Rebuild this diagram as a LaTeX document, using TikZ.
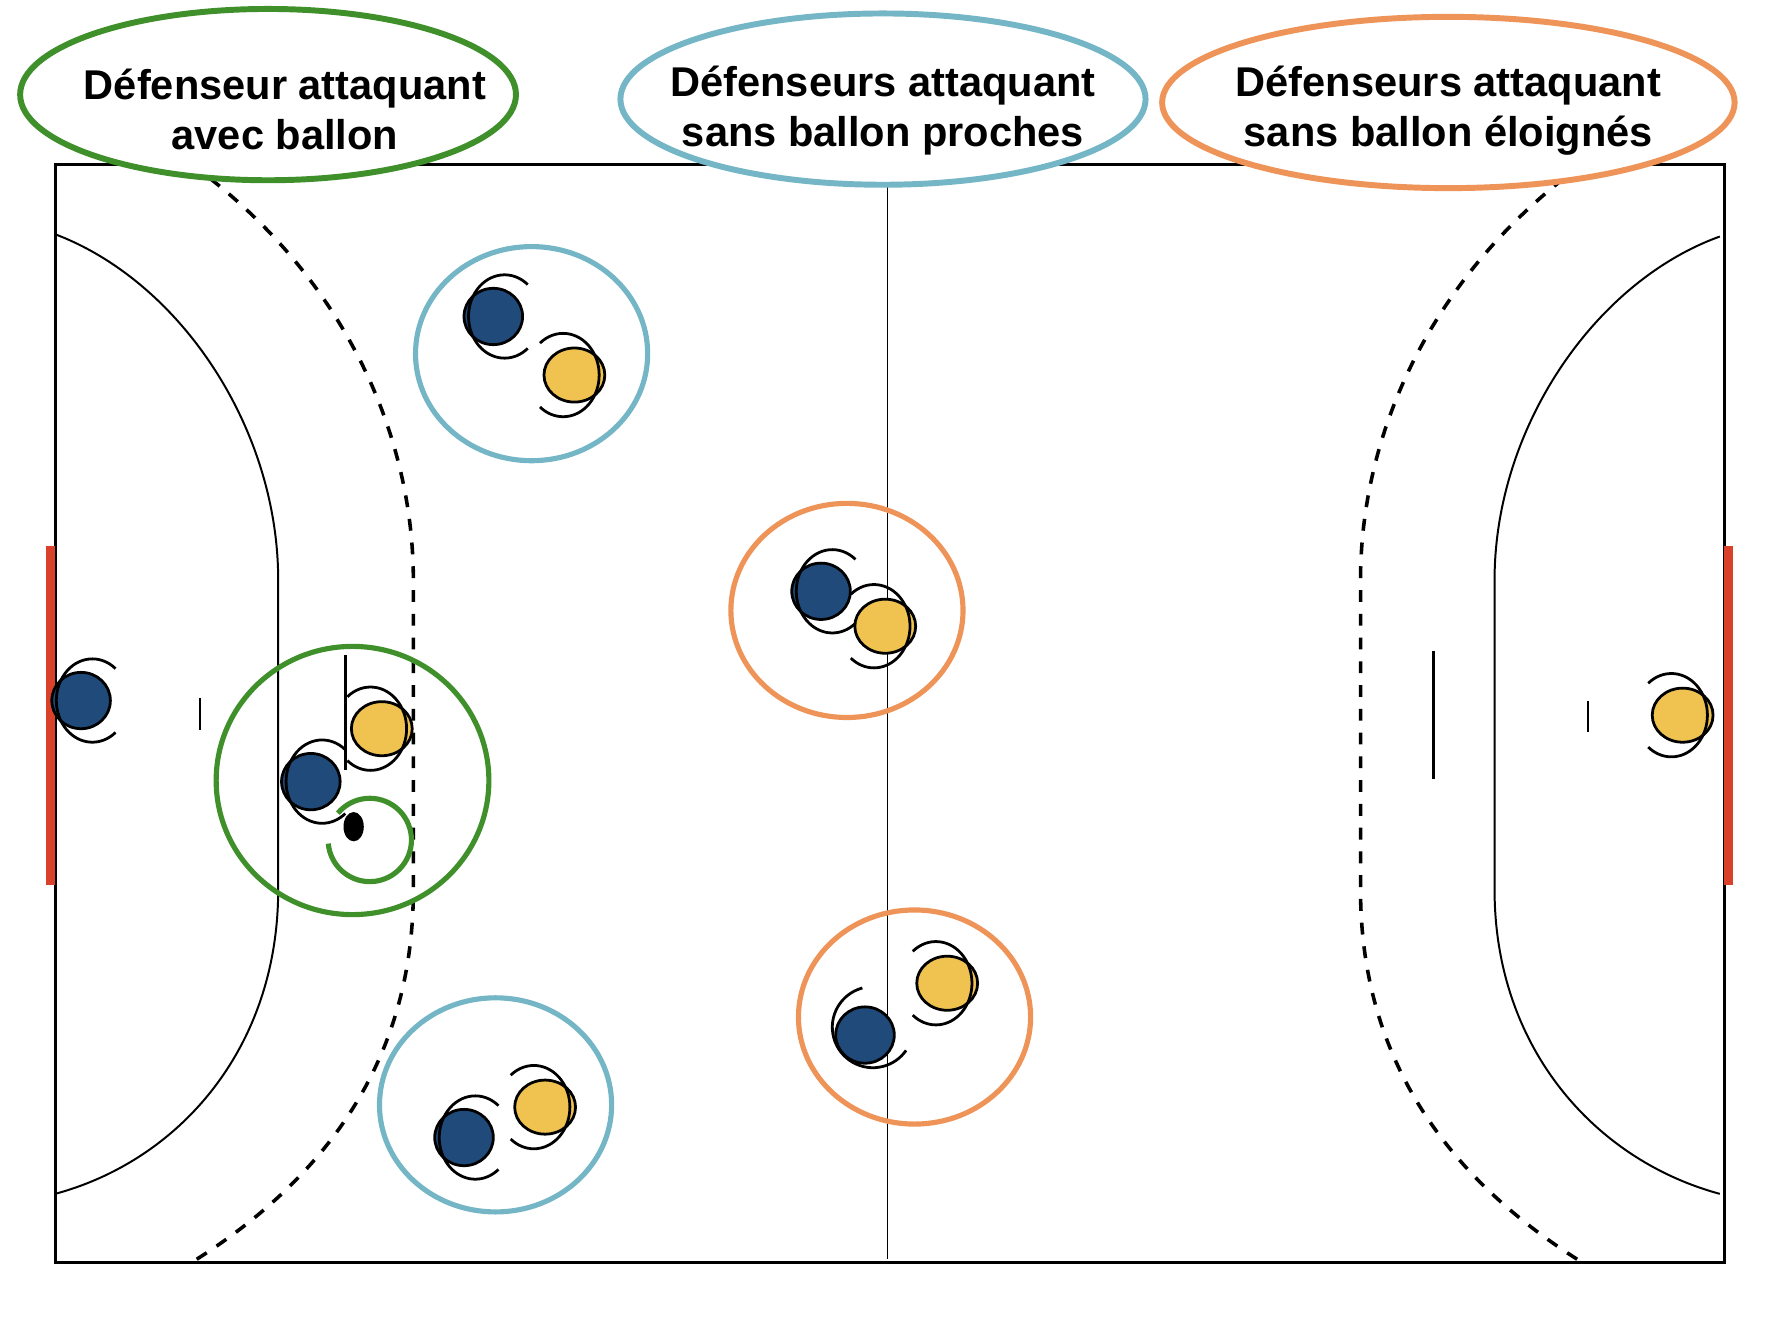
\documentclass[tikz,border=0pt]{standalone}
\usepackage{fontspec}
\setmainfont{Liberation Sans}
\usetikzlibrary{shapes.geometric}
\definecolor{teamblue}{HTML}{1F4A7A}
\definecolor{teamyellow}{HTML}{F0C350}
\definecolor{zonegreen}{HTML}{3F8F2A}
\definecolor{zonecyan}{HTML}{74B6C5}
\definecolor{zoneorange}{HTML}{EE9458}
\definecolor{goalred}{HTML}{D9412B}
\begin{document}
\begin{tikzpicture}
[
x=0.01cm,y=-0.01cm,
court/.style={line width=0.5pt},
nine/.style={line width=0.9pt,dash pattern=on 3pt off 3pt},
defender/.style={draw,ellipse,line width=0.7pt,fill=teamblue,minimum width=0.52cm,minimum height=0.5cm,inner sep=0pt},
attacker/.style={draw,ellipse,line width=0.7pt,fill=teamyellow,minimum width=0.54cm,minimum height=0.48cm,inner sep=0pt},
zone/.style 2 args={draw=#1,ellipse,line width=1.3pt,minimum width=#2,minimum height=1.9cm,inner sep=0pt},
tag/.style={draw=#1,fill=white,ellipse,line width=1.5pt,minimum height=1.52cm,inner sep=0pt},
tagtext/.style={align=center,font=\bfseries\fontsize{10.5}{12.6}\selectfont},
look/.style={line width=0.7pt},
]
\useasboundingbox (0,0) rectangle (1568,1170);

%court
\node[inner sep=0pt] (nw) at (49,146) {};
\node[inner sep=0pt] (se) at (1531,1121) {};
\draw[court,line width=0.8pt] (nw) rectangle (se);
\draw[court] (788,146) -- (788,1118);
\draw[court] (49,208) .. controls (160,250) and (247,380) .. (247,515) -- (247,790) .. controls (247,930) and (160,1030) .. (49,1060);
\draw[court] (1527,210) .. controls (1416,250) and (1327,380) .. (1327,515) -- (1327,790) .. controls (1327,930) and (1416,1030) .. (1527,1060);
\draw[nine] (170,146) .. controls (300,240) and (367,380) .. (367,515) -- (367,790) .. controls (367,930) and (300,1040) .. (170,1121);
\draw[nine] (1405,146) .. controls (1275,240) and (1208,380) .. (1208,515) -- (1208,790) .. controls (1208,930) and (1275,1040) .. (1405,1121);
\fill[goalred] (41,485) rectangle (49,786);
\fill[goalred] (1531,485) rectangle (1539,786);
\draw[court] (178,620) -- (178,648);
\draw[court] (1410,622) -- (1410,650);
\draw[court,line width=0.7pt] (1273,578) -- (1273,692);
\draw[court,line width=0.7pt] (307,582) -- (307,684);

%zones
\node[zone={zonecyan}{2.06cm}] (z1) at (472,314) {};
\node[zone={zonecyan}{2.06cm}] (z2) at (440,981) {};
\node[zone={zoneorange}{2.06cm}] (z3) at (752,542) {};
\node[zone={zoneorange}{2.06cm}] (z4) at (812,903) {};
\node[zone={zonegreen}{2.42cm},minimum height=2.38cm] (z5) at (313,693) {};
\draw[zonegreen,line width=1.3pt] (300,722) arc[start angle=-140,end angle=175,radius=37];

%players
\node[defender] (gk1) at (72,622) {};
\node[attacker] (gk2) at (1494,635) {};
\node[defender] (d1) at (438,281) {};
\node[attacker] (a1) at (510,333) {};
\node[defender] (d2) at (729,525) {};
\node[attacker] (a2) at (786,556) {};
\node[defender] (d3) at (276,694) {};
\node[attacker] (a3) at (339,647) {};
\node[defender] (d4) at (768,919) {};
\node[attacker] (a4) at (841,873) {};
\node[defender] (d5) at (412,1010) {};
\node[attacker] (a5) at (484,983) {};
\node[fill,ellipse,minimum width=0.18cm,minimum height=0.26cm,inner sep=0pt] (ball) at (314,734) {};

%looks
\foreach \p in {gk1,d1,d2,d3,d5}
  \draw[look,shift={(\p.center)}] (10,0) ++(-50:32 and 37) arc[start angle=-50,end angle=-310,x radius=32,y radius=37];
\foreach \p in {gk2,a1,a2,a3,a4,a5}
  \draw[look,shift={(\p.center)}] (-10,0) ++(-130:32 and 37) arc[start angle=-130,end angle=130,x radius=32,y radius=37];
\draw[look,shift={(d4.center)}] (7,-7) ++(-105:36) arc[start angle=-105,end angle=-325,radius=36];

%labels
\node[tag=zonegreen,minimum width=4.4cm] (t1) at (238,84) {};
\node[tag=zonecyan,minimum width=4.66cm] (t2) at (784,88) {};
\node[tag=zoneorange,minimum width=5.08cm] (t3) at (1286,91) {};
\node[tagtext] (l1) at (253,97) {Défenseur attaquant\\avec ballon};
\node[tagtext] (l2) at (784,98) {Défenseurs attaquant\\sans ballon proches};
\node[tagtext] (l3) at (1286,98) {Défenseurs attaquant\\sans ballon éloignés};
\end{tikzpicture}
\end{document}
